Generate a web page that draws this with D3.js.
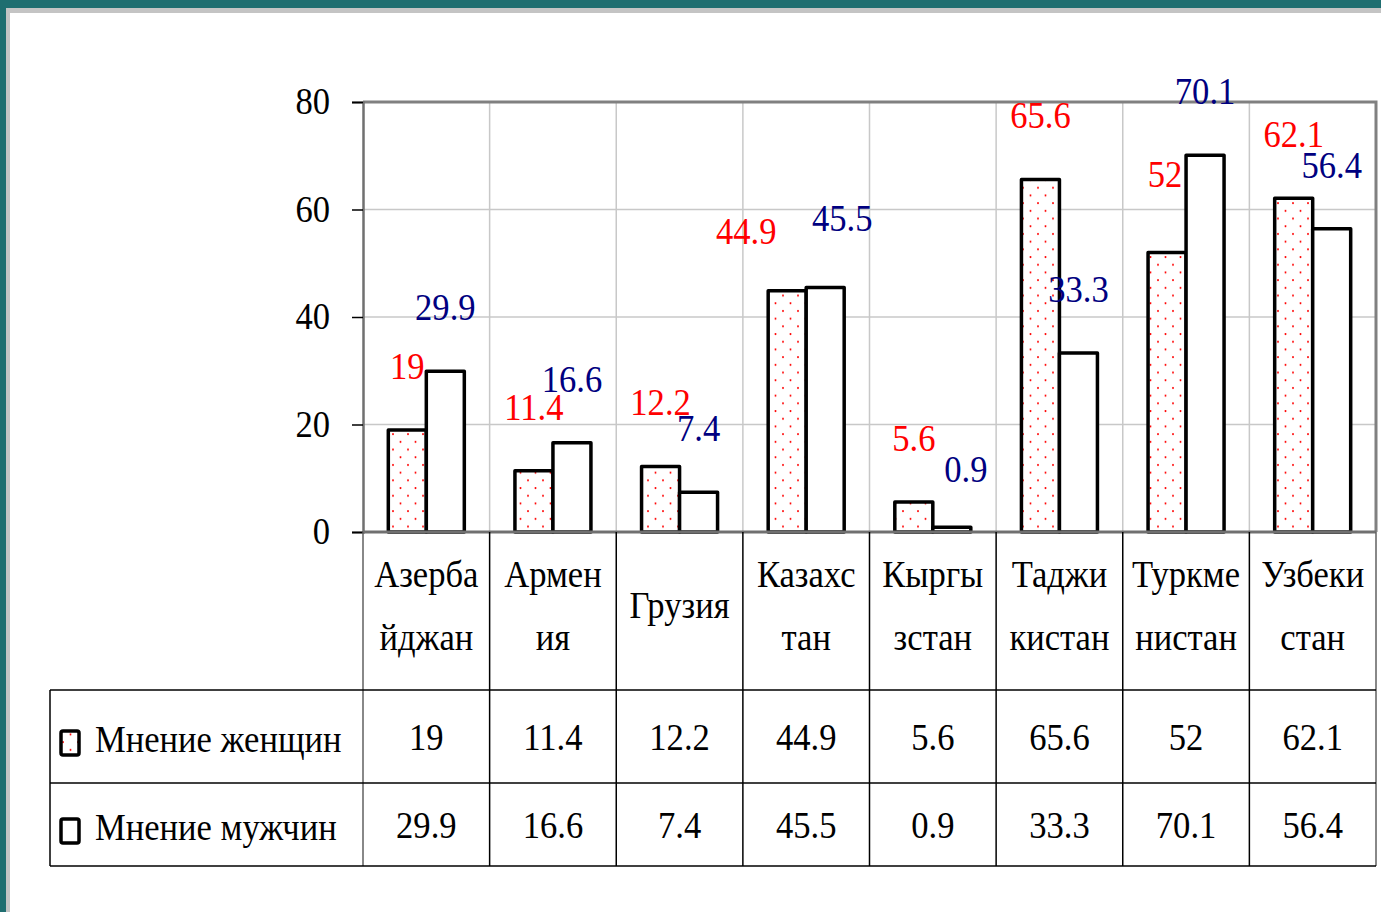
<html>
<head>
<meta charset="utf-8">
<script src="https://d3js.org/d3.v7.min.js"></script>
<style>
  body{ margin:0; background:#fff; }
  svg text{ font-family:"Liberation Serif","DejaVu Serif",serif; }
</style>
</head>
<body>
<div id="graph"></div>
<script>
// data
var categories = [["Азерба","йджан"],["Армен","ия"],["Грузия"],["Казахс","тан"],["Кыргы","зстан"],["Таджи","кистан"],["Туркме","нистан"],["Узбеки","стан"]];
var women = [19, 11.4, 12.2, 44.9, 5.6, 65.6, 52, 62.1];
var men = [29.9, 16.6, 7.4, 45.5, 0.9, 33.3, 70.1, 56.4];
var seriesNames = ["Мнение женщин", "Мнение мужчин"];
var yTicks = [0, 20, 40, 60, 80];

var W = 1381, H = 912;
var plotL = 363, plotR = 1376, plotT = 102, plotB = 532;
var tableTop = 690, rowMid = 783, tableBottom = 866, tableLeft = 50;
var fs = 38, sx = 0.91;
var red = "#ff0000", navy = "#000080";

var svg = d3.select("#graph").append("svg").attr("width", W).attr("height", H);

// slide frame
svg.append("rect").attr("width", W).attr("height", H).attr("fill", "#1f6e70");
svg.append("rect").attr("x", 6).attr("y", 8).attr("width", W).attr("height", H).attr("fill", "#c4c4c4");
svg.append("rect").attr("x", 10).attr("y", 13).attr("width", W).attr("height", H).attr("fill", "#fff");

var defs = svg.append("defs");
var pat = defs.append("pattern").attr("id", "dots").attr("patternUnits", "userSpaceOnUse")
  .attr("width", 15).attr("height", 15.4);
pat.append("rect").attr("width", 15).attr("height", 15.4).attr("fill", "#fff");
pat.append("circle").attr("cx", 3).attr("cy", 3).attr("r", 1).attr("fill", red);
pat.append("circle").attr("cx", 10.5).attr("cy", 10.7).attr("r", 1).attr("fill", red);

var x = d3.scaleBand().domain(d3.range(categories.length)).range([plotL, plotR]);
var x1 = d3.scaleBand().domain([0, 1]).range([0, x.bandwidth()]).paddingOuter(0.666);
var y = d3.scaleLinear().domain([0, 80]).range([plotB, plotT]);

function txt(g, s, px, py, color, anchor){
  return g.append("text")
    .attr("transform", "translate(" + px + "," + py + ") scale(" + sx + ",1)")
    .attr("text-anchor", anchor || "middle")
    .attr("font-size", fs)
    .attr("fill", color || "#000")
    .text(s);
}

// gridlines
var grid = svg.append("g").attr("stroke", "#c8c8c8").attr("stroke-width", 1.5);
grid.selectAll("line.h").data(yTicks.filter(function(d){ return d > 0 && d < 80; })).enter()
  .append("line").attr("x1", plotL).attr("x2", plotR)
  .attr("y1", function(d){ return y(d); }).attr("y2", function(d){ return y(d); });
grid.selectAll("line.v").data(d3.range(1, categories.length)).enter()
  .append("line").attr("y1", plotT).attr("y2", plotB)
  .attr("x1", function(i){ return x(i); }).attr("x2", function(i){ return x(i); });

// plot frame
svg.append("path").attr("d", "M" + plotL + "," + plotT + "H" + plotR + "V" + plotB)
  .attr("fill", "none").attr("stroke", "#808080").attr("stroke-width", 3);

// y axis
var yAxis = svg.append("g").attr("transform", "translate(" + plotL + ",0)")
  .call(d3.axisLeft(y).tickValues(yTicks).tickSize(11).tickFormat(""));
yAxis.select(".domain").attr("stroke", "#707070").attr("stroke-width", 2.5);
yAxis.selectAll(".tick line").attr("stroke", "#000").attr("stroke-width", 1.5);
yTicks.forEach(function(t){ txt(svg, t, 330, y(t) + 12, "#000", "end"); });

// bars
var series = [women, men];
var fills = ["url(#dots)", "#fff"];
series.forEach(function(vals, s){
  svg.append("g").selectAll("rect").data(vals).enter().append("rect")
    .attr("x", function(d, i){ return x(i) + x1(s); })
    .attr("y", function(d){ return y(d); })
    .attr("width", x1.bandwidth())
    .attr("height", function(d){ return plotB - y(d); })
    .attr("fill", fills[s])
    .attr("stroke", "#000").attr("stroke-width", 3.5).attr("stroke-linejoin", "round");
});

// x axis line
svg.append("line").attr("x1", plotL).attr("x2", plotR).attr("y1", plotB).attr("y2", plotB)
  .attr("stroke", "#707070").attr("stroke-width", 3);

// value labels
var nudge = { "0-3": [-41, 4], "1-3": [17, -5], "0-6": [-2, -15], "1-4": [14, 6] };
var labColors = [red, navy];
series.forEach(function(vals, s){
  vals.forEach(function(v, i){
    var n = nudge[s + "-" + i] || [0, 0];
    txt(svg, v, x(i) + x1(s) + x1.bandwidth() / 2 + n[0], y(v) - 51 + n[1], labColors[s]);
  });
});

// category labels
categories.forEach(function(lines, i){
  var cx = x(i) + x.bandwidth() / 2;
  if (lines.length === 1) txt(svg, lines[0], cx, 618);
  else lines.forEach(function(l, k){ txt(svg, l, cx, 587 + k * 63); });
});

// data table
var tl = svg.append("g").attr("stroke", "#000").attr("stroke-width", 1.5);
d3.range(categories.length + 1).forEach(function(i){
  var xx = i < categories.length ? x(i) : plotR;
  tl.append("line").attr("x1", xx).attr("x2", xx).attr("y1", plotB).attr("y2", tableBottom)
    .attr("stroke", (i === 0 || i === categories.length) ? "#606060" : "#000");
});
[tableTop, rowMid, tableBottom].forEach(function(yy){
  tl.append("line").attr("x1", tableLeft).attr("x2", plotR).attr("y1", yy).attr("y2", yy);
});
tl.append("line").attr("x1", tableLeft).attr("x2", tableLeft).attr("y1", tableTop).attr("y2", tableBottom);

var rowBase = [750, 838];
series.forEach(function(vals, s){
  vals.forEach(function(v, i){ txt(svg, v, x(i) + x.bandwidth() / 2, rowBase[s]); });
  svg.append("rect").attr("x", 61).attr("y", rowBase[s] - 19).attr("width", 18).attr("height", 24)
    .attr("rx", 2).attr("fill", fills[s]).attr("stroke", "#000").attr("stroke-width", 3.5);
  txt(svg, seriesNames[s], 95, rowBase[s] + 2, "#000", "start");
});
</script>
</body>
</html>
